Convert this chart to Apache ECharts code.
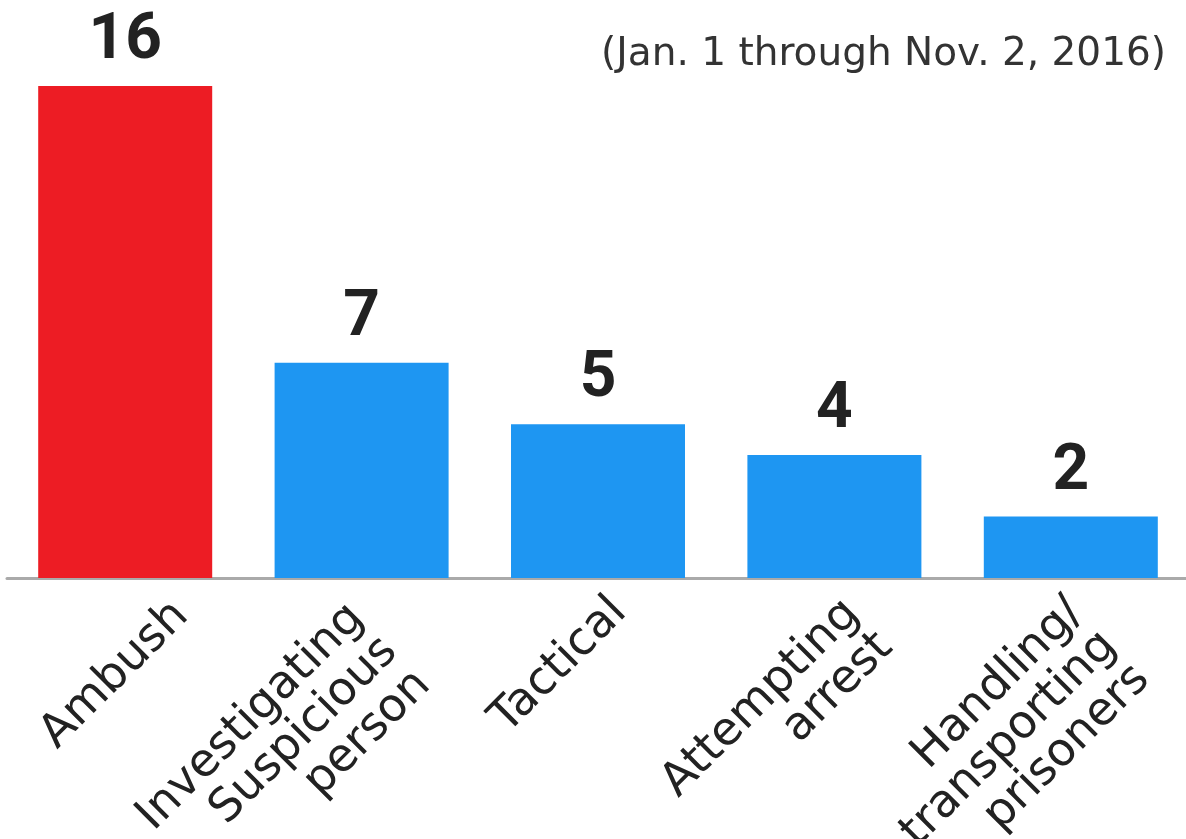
<!DOCTYPE html>
<html>
<head>
<meta charset="utf-8">
<style>
  html, body { margin: 0; padding: 0; background: #ffffff; }
  #chart { width: 1186px; height: 839px; }
</style>
<script src="https://cdn.jsdelivr.net/npm/echarts@6/dist/echarts.min.js"></script>
</head>
<body>
<div id="chart"></div>
<script>
// Officer deaths by circumstance, Jan. 1 through Nov. 2, 2016
const categories = [
  'Ambush',
  'Investigating\nSuspicious\nperson',
  'Tactical',
  'Attempting\narrest',
  'Handling/\ntransporting\nprisoners'
];
const values = [16, 7, 5, 4, 2];
const subtitle = '(Jan. 1 through Nov. 2, 2016)';

const RED = '#ED1C24';
const BLUE = '#1E96F2';
const INK = '#222222';

// Small hand-set nudges for the slanted category labels,
// in the label's own frame: [forward along the text, down across it]
const labelNudge = {
  'Ambush': [28, 28],
  'Investigating\nSuspicious\nperson': [-17, -13],
  'Tactical': [6, 1],
  'Attempting\narrest': [2, 0],
  'Handling/\ntransporting\nprisoners': [-6, -10]
};

const axisCategories = categories.map(name => {
  const n = labelNudge[name] || [0, 0];
  return {
    value: name,
    textStyle: {
      align: 'right',
      verticalAlign: 'top',
      padding: [n[1], -n[0], 0, 0]
    }
  };
});

const chart = echarts.init(document.getElementById('chart'), null, { renderer: 'canvas' });

chart.setOption({
  backgroundColor: '#ffffff',
  animation: false,
  title: {
    text: subtitle,
    right: 15,
    top: 30,
    textStyle: {
      fontFamily: 'DejaVu Sans',
      fontWeight: 'normal',
      fontSize: 39,
      color: '#333333'
    }
  },
  grid: {
    left: 7, width: 1182, top: 86, height: 492,
    containLabel: false,
    outerBoundsMode: 'none'
  },
  xAxis: {
    type: 'category',
    data: axisCategories,
    axisLine: { show: true, lineStyle: { color: '#aaaaaa', width: 3 } },
    axisTick: { show: false },
    axisLabel: {
      interval: 0,
      rotate: 45,
      align: 'right',
      verticalAlign: 'top',
      margin: 14,
      fontFamily: 'DejaVu Sans',
      fontSize: 46,
      lineHeight: 47,
      color: INK
    }
  },
  yAxis: {
    type: 'value',
    min: 0,
    max: 16,
    show: false,
    splitLine: { show: false }
  },
  series: [{
    type: 'bar',
    barWidth: 174,
    data: values.map((v, i) => ({
      value: v,
      itemStyle: { color: i === 0 ? RED : BLUE }
    })),
    label: {
      show: true,
      position: 'top',
      distance: 12,
      fontFamily: 'Roboto',
      fontWeight: 'bold',
      fontSize: 64,
      color: INK
    }
  }]
});
</script>
</body>
</html>
